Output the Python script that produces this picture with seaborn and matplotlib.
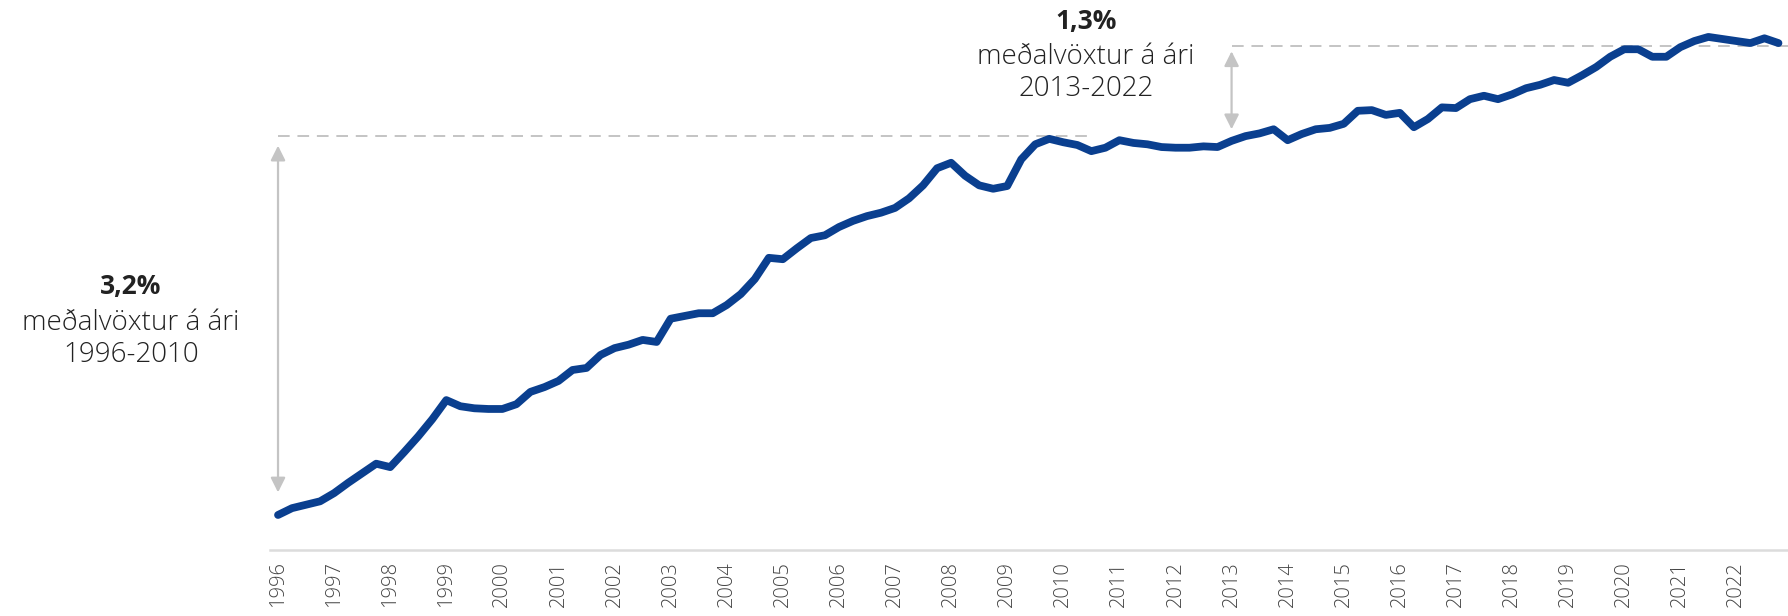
import matplotlib
matplotlib.use('Agg')
import matplotlib.pyplot as plt
import numpy as np
import pandas as pd
import seaborn as sns

# vísitala, ársfjórðungsgögn 1996Q1 - 2022Q4 (1996Q1 = 100)
visitala = [
    100.0, 101.0, 101.5, 102.0, 103.2, 104.7, 106.1, 107.5,
    107.0, 109.2, 111.5, 114.0, 116.8, 115.9, 115.6, 115.5,
    115.5, 116.2, 118.0, 118.7, 119.6, 121.2, 121.5, 123.4,
    124.4, 124.9, 125.6, 125.3, 128.7, 129.1, 129.5, 129.5,
    130.7, 132.3, 134.5, 137.6, 137.4, 139.0, 140.5, 140.9,
    142.1, 143.0, 143.7, 144.2, 144.9, 146.3, 148.2, 150.7,
    151.5, 149.6, 148.2, 147.7, 148.1, 152.0, 154.2, 155.0,
    154.5, 154.1, 153.2, 153.7, 154.8, 154.4, 154.2, 153.8,
    153.7, 153.7, 153.9, 153.8, 154.7, 155.4, 155.8, 156.4,
    154.8, 155.7, 156.4, 156.6, 157.2, 159.1, 159.2, 158.5,
    158.8, 156.7, 157.9, 159.6, 159.5, 160.8, 161.3, 160.8,
    161.5, 162.4, 162.9, 163.6, 163.2, 164.3, 165.5, 167.0,
    168.1, 168.1, 167.0, 167.0, 168.4, 169.3, 169.9, 169.6,
    169.3, 169.0, 169.7, 169.0,
]
fyrsta_ar = 1996
ar = list(range(1996, 2023))

# viðmiðunargildi fyrir örvar og brotalínur
stig_1996 = 100.0
stig_2010 = 155.4
stig_2013 = 154.7
stig_2022 = 168.6

texti_1 = ['3,2%', 'meðalvöxtur á ári', '1996-2010']
texti_2 = ['1,3%', 'meðalvöxtur á ári', '2013-2022']

blar = '#0a3f8f'
grar = '#c4c4c4'

df = pd.DataFrame({
    'tími': fyrsta_ar + np.arange(len(visitala)) / 4.0,
    'vísitala': visitala,
})

sns.set_style('white')
plt.rcParams['font.family'] = ['Open Sans', 'DejaVu Sans']

fig = plt.figure(figsize=(17.88, 6.16), dpi=100)
W, H = 1788.0, 616.0
ax = fig.add_axes([270 / W, (H - 550) / H, 1 - 270 / W, 550 / H])

sns.lineplot(data=df, x='tími', y='vísitala', ax=ax, color=blar,
             linewidth=5.6, solid_capstyle='round', solid_joinstyle='round')

ax.set_xlim(1995.857, 2022.92)
ax.set_ylim(94.88, 175.3)

# brotalínur
ax.plot([1996, 2010.5], [stig_2010, stig_2010], color=grar, lw=1.4,
        dashes=(6, 4), zorder=1)
ax.plot([2013, 2023], [stig_2022, stig_2022], color=grar, lw=1.4,
        dashes=(6, 4), zorder=1, clip_on=False)

# örvar
ax.annotate('', xy=(1996, stig_1996 + 3.3), xytext=(1996, stig_2010 - 1.4),
            arrowprops=dict(arrowstyle='<|-|>', color=grar, lw=1.6,
                            mutation_scale=22, shrinkA=0, shrinkB=0))
ax.annotate('', xy=(2013, stig_2013 + 1.7), xytext=(2013, stig_2022 - 0.8),
            arrowprops=dict(arrowstyle='<|-|>', color=grar, lw=1.6,
                            mutation_scale=22, shrinkA=0, shrinkB=0))

# textar
def texti(x_px, y_px_list, linur):
    for i, (y_px, t) in enumerate(zip(y_px_list, linur)):
        fig.text(x_px / W, 1 - y_px / H, t, ha='center', va='center',
                 fontsize=19 if i == 0 else 20, color='#222222',
                 fontweight='bold' if i == 0 else 'light')

texti(131, [287, 323, 355], texti_1)
texti(1086, [21, 57, 89], texti_2)

ax.set_xticks(ar)
ax.set_xticklabels([str(a) for a in ar], rotation=90, fontsize=14.5,
                   color='#444444', fontweight='light')
ax.tick_params(axis='x', length=0, pad=8)
ax.set_yticks([])
ax.set_xlabel('')
ax.set_ylabel('')
for s in ['top', 'right', 'left']:
    ax.spines[s].set_visible(False)
ax.spines['bottom'].set_color('#dcdcdc')
ax.spines['bottom'].set_linewidth(1.8)

fig.savefig('out.png', dpi=100)
